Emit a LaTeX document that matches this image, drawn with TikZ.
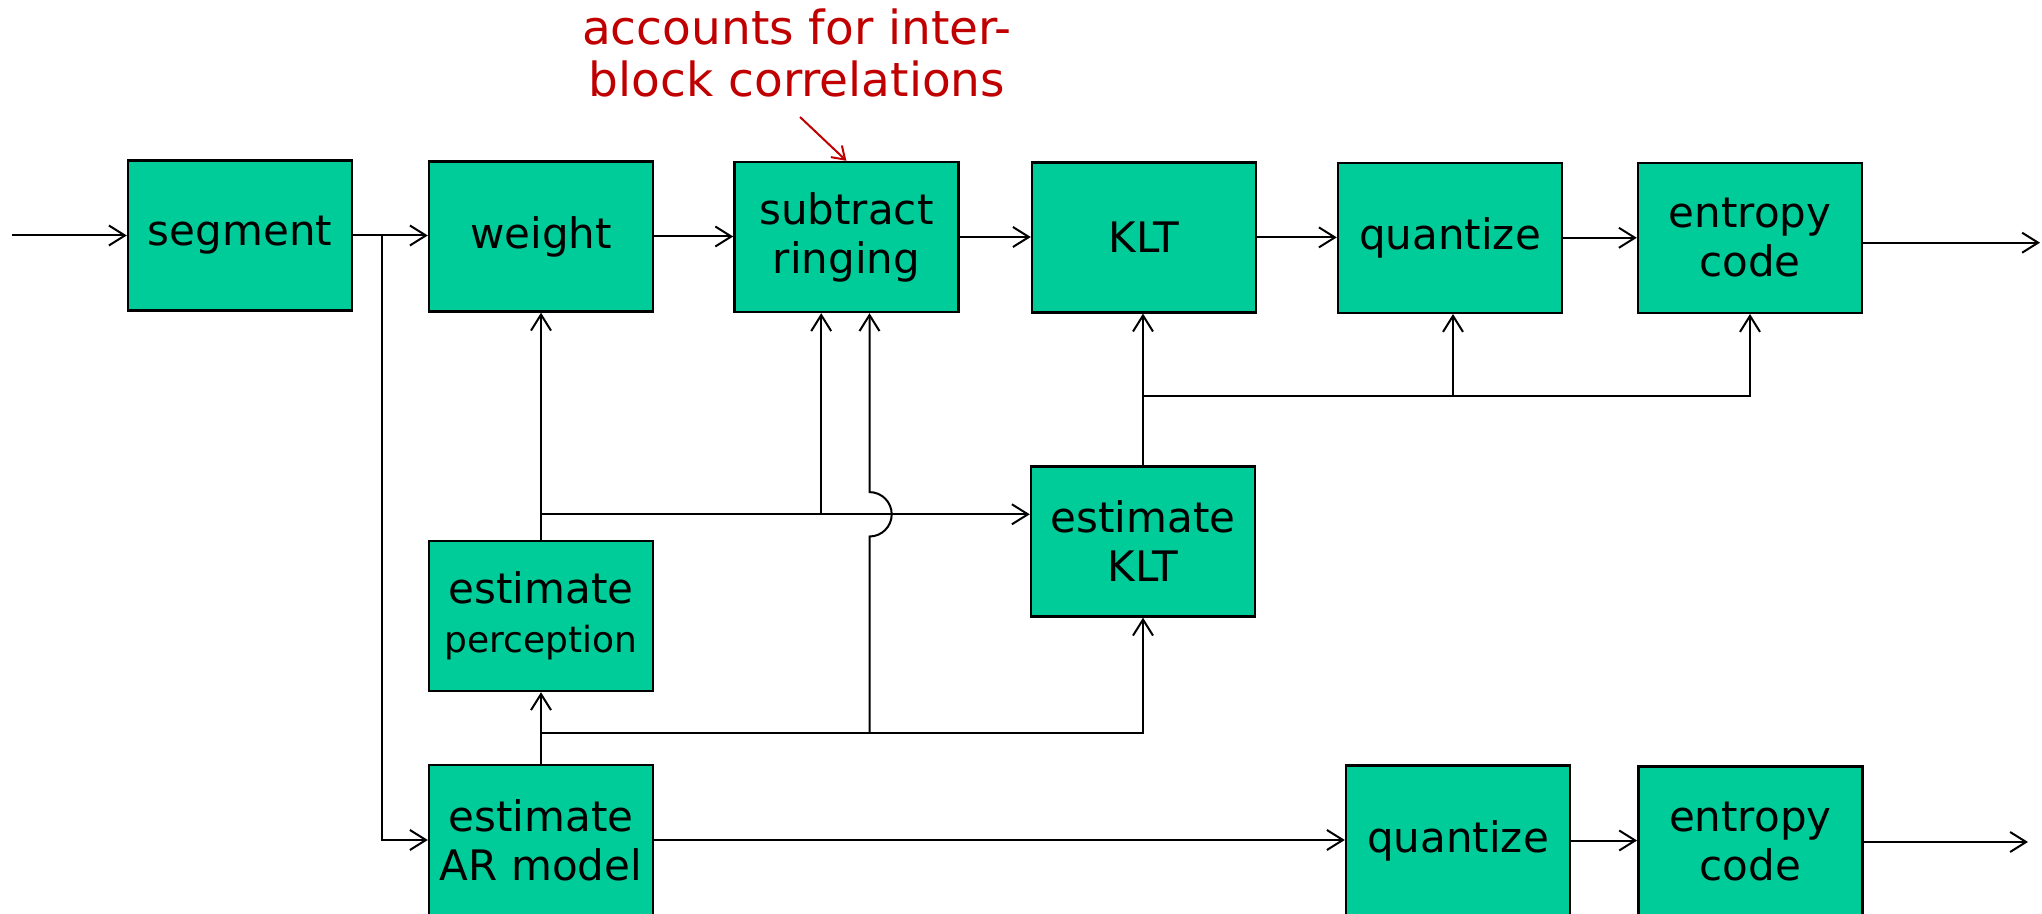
\documentclass[tikz,border=0pt]{standalone}
\usepackage{fontspec}
\setmainfont{DejaVu Sans}
\usetikzlibrary{arrows.meta}
\definecolor{boxgreen}{RGB}{0,204,153}
\definecolor{annred}{RGB}{192,0,0}
\begin{document}
\begin{tikzpicture}[x=0.5pt,y=-0.5pt,
  blk/.style={draw=black, line width=1.2pt, fill=boxgreen, minimum width=112pt, minimum height=75pt, inner sep=0pt, align=center, font=\fontsize{21}{24.5}\selectfont},
  conn/.style={line width=1pt, -{Straight Barb[length=8pt,width=10pt,line width=1pt]}},
  wire/.style={line width=1pt},
  ann/.style={text=annred, align=center, inner sep=0pt, font=\fontsize{23.5}{26}\selectfont},
  annarrow/.style={draw=annred, line width=1pt, -{Straight Barb[length=6pt,width=8pt,line width=1pt]}}]
\clip (0,0) rectangle (2042,914);
% boxes
\node[blk] (seg) at (240,235.5) {segment};
\node[blk] (wgt) at (541,236.5) {weight};
\node[blk] (sub) at (846.4,237) {subtract\\ringing};
\node[blk] (klt) at (1144,237.4) {KLT};
\node[blk] (q1) at (1450,237.8) {quantize};
\node[blk] (e1) at (1750,237.8) {entropy\\code};
\node[blk] (eklt) at (1143,541.5) {estimate\\KLT};
\node[blk] (ep) at (541,616) {estimate\\\fontsize{18}{22.5}\selectfont perception};
\node[blk] (ar) at (541,840) {estimate\\AR model};
\node[blk] (q2) at (1458,840.5) {quantize};
\node[blk] (e2) at (1750.3,841.5) {entropy\\code};
% annotation
\node[ann] (note) at (797,53) {accounts for inter-\\block correlations};
\coordinate (nt) at (800,117);
\draw[annarrow] (nt) -- (sub.north);
% coordinates
\coordinate (in) at (12,235.5);
\coordinate (out1) at (2040,242.7);
\coordinate (out2) at (2028,842);
\coordinate (j1) at (381.6,235.5);
\coordinate (j2) at (541,514.3);
\coordinate (j3) at (821.2,514.3);
\coordinate (j4) at (869.5,733.3);
\coordinate (j5) at (541,733.3);
\coordinate (j6) at (1144,396);
\coordinate (j7) at (1453,396);
% top row
\draw[conn] (in) -- (seg.west);
\draw[conn] (seg.east) -- (seg.east -| wgt.west);
\draw[conn] (wgt.east) -- (wgt.east -| sub.west);
\draw[conn] (sub.east) -- (sub.east -| klt.west);
\draw[conn] (klt.east) -- (klt.east -| q1.west);
\draw[conn] (q1.east) -- (q1.east -| e1.west);
\draw[conn] (e1.east |- out1) -- (out1);
% bottom row
\draw[conn] (j1) |- (ar.west);
\draw[conn] (ar.east) -- (ar.east -| q2.west);
\draw[conn] (q2.east) -- (q2.east -| e2.west);
\draw[conn] (e2.east |- out2) -- (out2);
% feedback / side info
\draw[conn] (ep.north) -- (wgt.south);
\draw[conn] (j2) -- (j2 -| eklt.west);
\draw[conn] (j3) -- (j3 |- sub.south);
\draw[conn] (j4) -- (869.5,536.5) arc[start angle=-90,end angle=90,radius=11.1pt] -- (j4 |- sub.south);
\draw[conn] (ar.north) -- (ep.south);
\draw[conn] (j5) -| (eklt.south);
\draw[conn] (eklt.north) -- (eklt.north |- klt.south);
\draw[conn] (j6) -| (e1.south);
\draw[conn] (j7) -- (j7 |- q1.south);
\end{tikzpicture}
\end{document}
